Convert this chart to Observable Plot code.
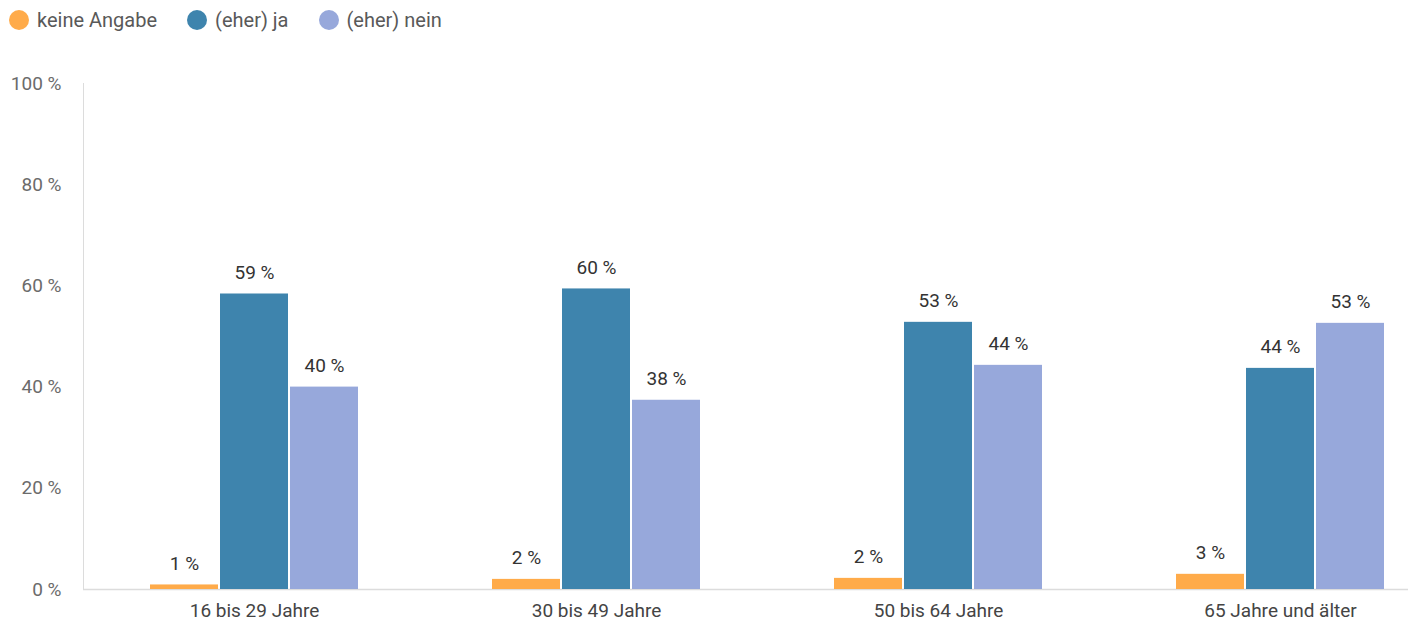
<!DOCTYPE html>
<html>
<head>
<meta charset="utf-8">
<script src="https://cdn.jsdelivr.net/npm/d3@7"></script>
<script src="https://cdn.jsdelivr.net/npm/@observablehq/plot@0.6"></script>
<style>
  html, body { margin: 0; padding: 0; background: #fff; }
  body { width: 1408px; height: 627px; overflow: hidden; font-family: Roboto, "Noto Sans", sans-serif; }
  #legend { height: 40px; display: flex; align-items: center; padding-left: 9px; font-size: 20px; color: #595959; }
  .item { display: flex; align-items: center; margin-right: 30px; }
  .dot { width: 20px; height: 20px; border-radius: 50%; margin-right: 8px; }
  #chart svg { display: block; }
  #chart [aria-label^="y-axis"] text { fill: #6b6b6b; }
  #chart [aria-label^="fx-axis"] text { fill: #444; }
</style>
</head>
<body>
<div id="legend"></div>
<div id="chart"></div>
<script>
const groups = ["16 bis 29 Jahre", "30 bis 49 Jahre", "50 bis 64 Jahre", "65 Jahre und älter"];
const series = ["keine Angabe", "(eher) ja", "(eher) nein"];
const colors = ["#FFAB4A", "#3E84AD", "#97A8DB"];
const keineAngabe = [0.9, 2.0, 2.2, 3.0];
const eherJa = [58.4, 59.4, 52.8, 43.7];
const eherNein = [40.0, 37.4, 44.3, 52.6];
const keineAngabeLabels = ["1 %", "2 %", "2 %", "3 %"];
const eherJaLabels = ["59 %", "60 %", "53 %", "44 %"];
const eherNeinLabels = ["40 %", "38 %", "44 %", "53 %"];
const yTicks = [0, 20, 40, 60, 80, 100];

const seriesValues = [keineAngabe, eherJa, eherNein];
const seriesLabels = [keineAngabeLabels, eherJaLabels, eherNeinLabels];
const data = [];
groups.forEach((g, gi) => {
  series.forEach((s, si) => {
    data.push({group: g, series: s, value: seriesValues[si][gi], label: seriesLabels[si][gi]});
  });
});

// legend
const legend = document.getElementById("legend");
series.forEach((s, i) => {
  const it = document.createElement("div");
  it.className = "item";
  const dot = document.createElement("span");
  dot.className = "dot";
  dot.style.background = colors[i];
  const t = document.createElement("span");
  t.textContent = s;
  it.appendChild(dot); it.appendChild(t);
  legend.appendChild(it);
});

const chart = Plot.plot({
  width: 1408,
  height: 587,
  marginLeft: 82,
  marginRight: 0,
  marginTop: 43,
  marginBottom: 38,
  style: {fontFamily: "Roboto, 'Noto Sans', sans-serif", fontSize: "19px", background: "#fff", color: "#dcdcdc", overflow: "visible"},
  fx: {domain: groups, range: [82, 1452], padding: 0, tickSize: 0, tickPadding: 14, label: null},
  x: {domain: series, paddingInner: 0.033, paddingOuter: 0.95, axis: null},
  y: {domain: [0, 100], ticks: yTicks, tickFormat: d => d + " %", tickSize: 0, tickPadding: 22, label: null, line: true},
  color: {domain: series, range: colors},
  marks: [
    Plot.ruleY([0], {stroke: "#dcdcdc", strokeWidth: 1.5}),
    Plot.barY(data, {fx: "group", x: "series", y: "value", fill: "series"}),
    Plot.text(data, {fx: "group", x: "series", y: "value", text: "label", dy: -21, fill: "#333", fontSize: 19})
  ]
});
document.getElementById("chart").appendChild(chart);
</script>
</body>
</html>
